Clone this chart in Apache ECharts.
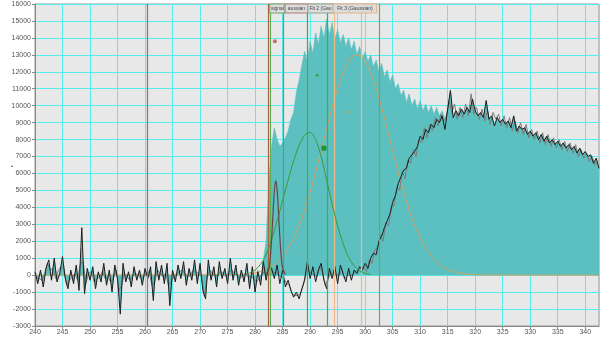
<!DOCTYPE html>
<html>
<head>
<meta charset="utf-8">
<script src="https://cdn.jsdelivr.net/npm/echarts@6/dist/echarts.min.js"></script>
<style>
  html, body { margin: 0; padding: 0; background: #fff; }
  #chart { width: 601px; height: 338px; }
</style>
</head>
<body>
<div id="chart"></div>
<script>
// samples are every 0.5 from 240
const xStart = 240
const xStep = 0.5

// black trace (measured)
const blackVals = [
  200,-500,300,-700,400,900,-300,1000,-400,100,
  1100,-200,-800,300,-500,600,-900,2800,-1100,400,
  -300,500,-800,200,-400,700,-600,300,-1000,600,
  -200,-2300,700,-400,200,-700,500,-300,300,-600,
  400,-200,500,-1500,800,-300,600,-500,700,-1800,
  300,-400,600,-200,800,-600,400,-300,900,-500,
  700,-900,-1400,900,-300,500,-700,800,-200,400,
  -500,1000,-300,600,-600,300,-400,700,-800,500,
  -1000,200,-600,800,-300,600,400,-200,600,-500,
  300,-700,-300,-900,-1300,-1000,-1400,-800,-300,800,
  -200,500,-400,300,700,-300,-800,400,-200,500,
  -500,600,100,-400,400,-300,300,100,500,300,
  700,400,1000,1300,1200,2000,2300,2800,3200,3600,
  4300,4700,5400,5800,6200,6300,6900,7100,7300,7600,
  8200,8000,8600,8400,8900,8700,9200,9000,9400,8600,
  9800,10900,9300,9700,9400,9800,9500,9900,9600,10400,
  9700,9400,9600,9300,10300,9200,9400,8800,9300,9000,
  9200,8900,9100,8700,9400,8500,8800,8600,8700,8300,
  8500,8200,8400,8000,8300,7900,8200,7800,8000,7700,
  7900,7600,7800,7500,7700,7400,7600,7200,7500,7100,
  7300,7000,7100,6600,6900,6300
]

// grey raw trace, samples every 0.5 from 240.25
const greyStart = 240.25
const greyVals = [
  -100,-200,-300,100,700,300,400,-200,300,500,
  400,-600,-300,-100,100,-300,700,800,-500,100,
  200,-400,-200,-100,200,-200,-100,-400,-200,300,
  -900,-600,100,-100,-300,-100,100,0,-200,-100,
  100,200,-600,-400,300,100,-100,100,-600,-400,
  -100,100,200,300,100,-100,0,300,200,100,
  -100,-1200,-200,300,100,-100,0,200,100,-100,
  200,300,100,0,-200,0,100,-100,-100,-200,
  -400,-200,100,200,100,500,100,200,0,-100,
  -200,-500,-600,-1100,-1200,-1200,-1100,-600,200,300,
  100,0,-100,500,200,-600,-200,100,100,0,
  0,300,-200,0,0,0,200,300,400,500,
  200,900,700,1500,1600,2400,2000,3100,2900,4000,
  4100,5200,5000,6100,5700,6800,6600,7400,7000,8000,
  7800,8700,8100,8900,8500,9300,8800,9500,9100,9300,
  10300,9600,10100,9200,9900,9300,10100,9400,10700,9500,
  9900,9200,9800,9100,9700,8900,9600,9200,9500,8800,
  9400,8700,9300,8500,9100,8400,9000,8300,8900,8100,
  8600,8000,8500,7800,8400,7700,8300,7600,8100,7500,
  8000,7400,7900,7300,7800,7200,7700,7000,7400,6900,
  7200,6700,7000,6500,6700
]

// teal spectrum, 240 .. 314.5 ; after that it follows the black trace
const tealHead = [
  300,-400,200,-500,300,700,-200,900,-300,200,
  800,-100,-600,200,-400,500,-700,1600,-900,300,
  -200,400,-600,100,-300,500,-500,200,-800,400,
  -100,-1900,500,-300,100,-500,400,-200,200,-500,
  300,-100,400,-1200,600,-200,500,-400,500,-1500,
  200,-300,500,-100,600,-500,300,-200,700,-400,
  500,-700,-1100,700,-200,400,-600,600,-100,300,
  -400,800,-200,500,-500,300,-300,600,-700,400,
  -900,300,-400,900,2000,5500,7600,8700,8000,7600,
  7800,8100,8500,9200,9600,10800,11500,12400,13200,12600,
  13800,13100,14300,13600,14700,14000,15100,14200,14900,13900,
  14500,13700,14200,13500,14000,13300,13800,13000,13500,12800,
  13200,12600,13000,12300,12700,12000,12500,11700,12100,11400,
  11800,11000,11300,10600,10900,10200,10700,10000,10400,9800,
  10300,9700,10100,9600,10000,9500,9900,9400,9700,9200
]

// fit 1 "signal" (narrow peak)
const fit1X = [282, 282.5, 282.75, 283, 283.25, 283.5, 283.75, 284, 284.25, 284.5, 284.75, 285, 285.5]
const fit1Y = [0, 395, 1015, 2125, 3610, 4970, 5560, 5050, 3730, 2230, 1085, 430, 37]

// fit 2 (green gaussian)
const fit2X = [279, 280, 281, 282, 283, 284, 285, 286, 287, 288, 289, 290, 291, 292, 293, 294, 295, 296, 297, 298, 299, 300, 301]
const fit2Y = [130, 300, 650, 1200, 2100, 3200, 4400, 5600, 6750, 7650, 8250, 8420, 8000, 7000, 5600, 4200, 2900, 1850, 1050, 550, 260, 110, 40]

// fit 3 (orange gaussian)
const fit3X = [240, 278, 280, 282, 283, 284, 285, 286, 287, 288, 289, 290, 291, 292, 293, 294, 295, 296, 297, 298, 299, 300, 301, 302, 303, 304, 305, 306, 307, 308, 309, 310, 311, 312, 313, 314, 315, 317, 319, 321, 342.5]
const fit3Y = [0, 44, 128, 330, 505, 760, 1110, 1575, 2175, 2930, 3840, 4900, 6080, 7340, 8640, 9890, 11010, 11950, 12615, 12960, 12960, 12615, 11950, 11010, 9890, 8640, 7340, 6080, 4900, 3840, 2930, 2175, 1575, 1110, 760, 505, 330, 128, 44, 10, 0]

// fit start/centre markers
const markerX = [283.6, 291.3, 292.5, 296.9]
const markerY = [13800, 11800, 7490, 9620]

// vertical cursor lines
const cursorX = [260.36, 282.42, 282.67, 285.15, 289.4, 293.04, 294.42, 299.27, 302.55]

// fit region labels
const fitLabels = ['signal', 'aussian', 'Fit 2 (Gau', 'Fit 3 (Gaussian)']
const fitEdges = [282.67, 285.45, 289.58, 294.2, 302.1]

// styles
const cursorColors = ['#7a7a7a', '#a8623f', '#5fae5f', '#5e9494', '#4ea64e', '#4ea64e', '#f0b888', '#f0b888', '#5fae5f']
const markerColors = ['#c84848', '#2e9e2e', '#138a13', '#e89a58']
const markerSymbols = ['circle', 'circle', 'rect', 'circle']
const markerSizes = [4, 3, 5, 3]
const labelBorders = ['#6aa86a', '#a88070', '#8aa88a', '#e8b080']

const pairs = (vals, start) => vals.map((v, i) => [start + i * xStep, v])
const zip = (xs, ys) => xs.map((x, i) => [x, ys[i]])

const tealVals = tealHead.concat(blackVals.slice(tealHead.length))

const chart = echarts.init(document.getElementById('chart'), null, { renderer: 'canvas' })

const axisFont = { fontSize: 7, color: '#555', fontFamily: 'Liberation Sans' }

const option = {
  animation: false,
  backgroundColor: '#ffffff',
  grid: {
    left: 35, right: 2, top: 4, bottom: 12,
    show: true,
    backgroundColor: '#e8e8e8',
    borderColor: '#999',
    borderWidth: 1
  },
  xAxis: {
    type: 'value',
    min: 240, max: 342.5, interval: 5,
    axisLine: { onZero: false, lineStyle: { color: '#888' } },
    axisTick: { length: 3, lineStyle: { color: '#888' } },
    axisLabel: Object.assign({ margin: 3, showMaxLabel: false }, axisFont),
    splitLine: { show: true, lineStyle: { color: '#55eeee', width: 1 } }
  },
  yAxis: {
    type: 'value',
    min: -3000, max: 16000, interval: 1000,
    axisLine: { show: true, lineStyle: { color: '#888' } },
    axisTick: { show: true, length: 3, lineStyle: { color: '#888' } },
    axisLabel: Object.assign({ margin: 4, formatter: (v) => String(v) }, axisFont),
    splitLine: { show: true, lineStyle: { color: '#55eeee', width: 1 } }
  },
  series: [
    {
      name: 'spectrum',
      type: 'line',
      data: pairs(tealVals, xStart),
      symbol: 'none',
      lineStyle: { color: '#5cc0c0', width: 0.6 },
      areaStyle: { color: '#5cc0c0', opacity: 1 },
      z: 1
    },
    {
      name: 'cursors',
      type: 'line',
      data: [],
      z: 2,
      markLine: {
        silent: true,
        symbol: 'none',
        label: { show: false },
        animation: false,
        data: cursorX.map((x, i) => ({ xAxis: x, lineStyle: { color: cursorColors[i], width: 1.2, type: 'solid' } }))
      }
    },
    {
      name: 'fit3',
      type: 'line',
      data: zip(fit3X, fit3Y),
      smooth: 0.3,
      symbol: 'none',
      lineStyle: { color: '#d8a060', width: 1 },
      z: 3
    },
    {
      name: 'grey',
      type: 'line',
      data: pairs(greyVals, greyStart),
      symbol: 'none',
      lineStyle: { color: '#7c7c7c', width: 1 },
      z: 4
    },
    {
      name: 'black',
      type: 'line',
      data: pairs(blackVals, xStart),
      symbol: 'none',
      lineStyle: { color: '#1c1c1c', width: 1 },
      z: 4
    },
    {
      name: 'fit2',
      type: 'line',
      data: zip(fit2X, fit2Y),
      smooth: 0.3,
      symbol: 'none',
      lineStyle: { color: '#3a9a3a', width: 1 },
      z: 5
    },
    {
      name: 'fit1',
      type: 'line',
      data: zip(fit1X, fit1Y),
      smooth: 0.3,
      symbol: 'none',
      lineStyle: { color: '#6a4444', width: 1.2 },
      z: 5
    },
    {
      name: 'markers',
      type: 'scatter',
      data: markerX.map((x, i) => ({
        value: [x, markerY[i]],
        symbol: markerSymbols[i],
        symbolSize: markerSizes[i],
        itemStyle: { color: markerColors[i] }
      })),
      z: 6
    }
  ]
}

option && chart.setOption(option)

// label boxes along the top of the fit regions
const topY = 4
const boxH = 9
const graphics = []
for (let i = 0; i < fitLabels.length; i++) {
  const x0 = chart.convertToPixel({ gridIndex: 0 }, [fitEdges[i], 0])[0]
  const x1 = chart.convertToPixel({ gridIndex: 0 }, [fitEdges[i + 1], 0])[0]
  graphics.push({
    type: 'rect',
    shape: { x: x0, y: topY, width: x1 - x0, height: boxH },
    style: { fill: '#dcdcdc', stroke: labelBorders[i], lineWidth: 1 },
    z: 10
  })
  graphics.push({
    type: 'text',
    x: (x0 + x1) / 2,
    y: topY + boxH / 2,
    style: {
      text: fitLabels[i],
      fill: '#444',
      fontSize: 5,
      fontFamily: 'Liberation Sans',
      align: 'center',
      verticalAlign: 'middle'
    },
    z: 11
  })
}
graphics.push({
  type: 'text',
  x: 12,
  y: 166,
  style: { text: '•', fill: '#335588', fontSize: 6, align: 'center', verticalAlign: 'middle' }
})
chart.setOption({ graphic: graphics })
</script>
</body>
</html>
